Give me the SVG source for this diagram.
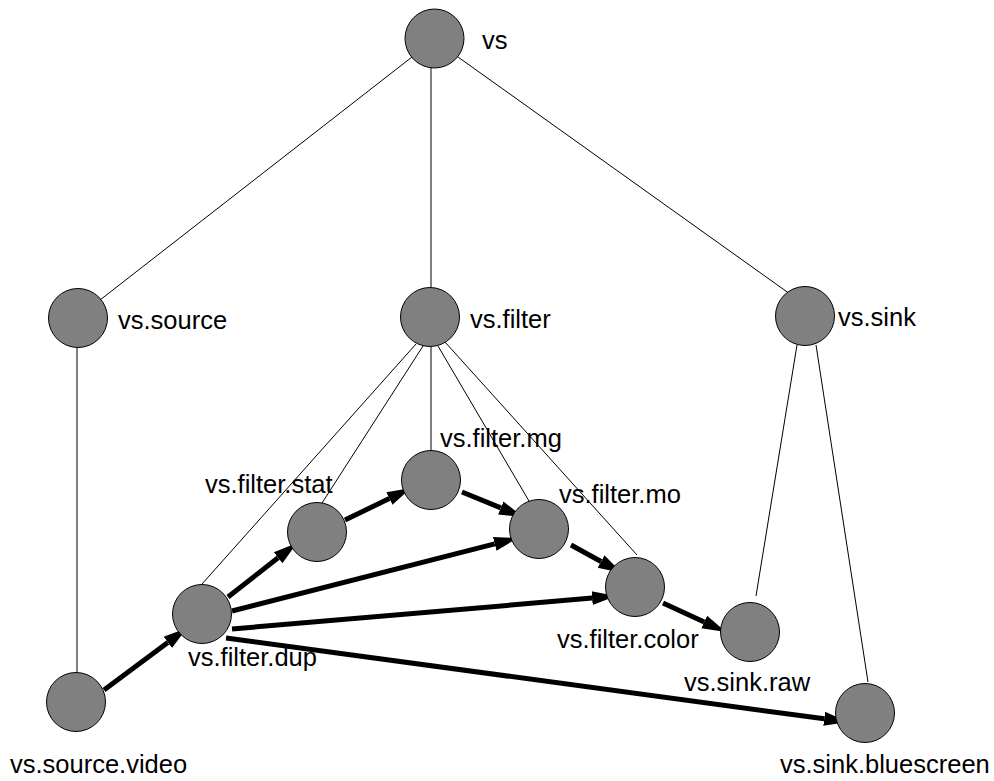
<svg xmlns="http://www.w3.org/2000/svg" width="994" height="781" viewBox="0 0 994 781">
<style>
.n circle{fill:#808080;stroke:#000;stroke-width:1}
text{font-family:"Liberation Sans",Arial,sans-serif;font-size:25.5px;fill:#000}
.t line{stroke:#000;stroke-width:1}
.a line{stroke:#000;stroke-width:5;marker-end:url(#ah)}
</style>
<defs>
<marker id="ah" markerUnits="userSpaceOnUse" markerWidth="26" markerHeight="16" viewBox="0 -8 26 16" refX="0" refY="0" orient="auto">
<path d="M0,-7 L24,0 L0,7 z" fill="#000"/>
</marker>
</defs>
<rect width="994" height="781" fill="#fff"/>
<g id="connectors">
<g class="t">
<line x1="412" y1="57" x2="100" y2="300"/>
<line x1="431" y1="68" x2="431" y2="288"/>
<line x1="458" y1="57" x2="790" y2="294"/>
<line x1="77" y1="348" x2="77" y2="672"/>
<line x1="416" y1="344" x2="202" y2="584"/>
<line x1="423" y1="346" x2="322" y2="503"/>
<line x1="431" y1="347" x2="431" y2="450"/>
<line x1="438" y1="346" x2="529" y2="501"/>
<line x1="445" y1="342" x2="637" y2="555"/>
<line x1="797" y1="345" x2="756" y2="596"/>
<line x1="816" y1="345" x2="868" y2="682"/>
</g>
<g class="a">
<line x1="104" y1="690" x2="167.8" y2="642.4"/>
<line x1="228" y1="597" x2="278.1" y2="557.8"/>
<line x1="345" y1="520" x2="389.4" y2="498.5"/>
<line x1="462" y1="492" x2="500.8" y2="507.9"/>
<line x1="232" y1="611" x2="494.7" y2="543.9"/>
<line x1="232" y1="629" x2="592.1" y2="598.1"/>
<line x1="571" y1="545" x2="601" y2="561.5"/>
<line x1="663" y1="603" x2="704.2" y2="622"/>
<line x1="226" y1="638" x2="824.2" y2="718.8"/>
</g>
</g>
<g id="vs" class="n"><circle cx="434.5" cy="38.5" r="29.5"/><text x="482" y="49">vs</text></g>
<g id="vs.source" class="n"><circle cx="78" cy="318" r="29.5"/><text x="118" y="329">vs.source</text></g>
<g id="vs.filter" class="n"><circle cx="430" cy="317" r="29.5"/><text x="470" y="328">vs.filter</text></g>
<g id="vs.sink" class="n"><circle cx="805" cy="316" r="29.5"/><text x="838" y="326">vs.sink</text></g>
<g id="vs.source.video" class="n"><circle cx="76" cy="702" r="29.5"/><text x="10" y="773">vs.source.video</text></g>
<g id="vs.filter.dup" class="n"><circle cx="202" cy="614" r="29.5"/><text x="188" y="666">vs.filter.dup</text></g>
<g id="vs.filter.stat" class="n"><circle cx="317" cy="532" r="29.5"/><text x="205" y="493">vs.filter.stat</text></g>
<g id="vs.filter.mg" class="n"><circle cx="431" cy="480" r="29.5"/><text x="440" y="447">vs.filter.mg</text></g>
<g id="vs.filter.mo" class="n"><circle cx="539" cy="529" r="29.5"/><text x="559" y="503">vs.filter.mo</text></g>
<g id="vs.filter.color" class="n"><circle cx="635" cy="587" r="29.5"/><text x="557" y="648">vs.filter.color</text></g>
<g id="vs.sink.raw" class="n"><circle cx="750" cy="632" r="29.5"/><text x="684" y="691">vs.sink.raw</text></g>
<g id="vs.sink.bluescreen" class="n"><circle cx="865" cy="713" r="29.5"/><text x="780" y="773">vs.sink.bluescreen</text></g>
</svg>
